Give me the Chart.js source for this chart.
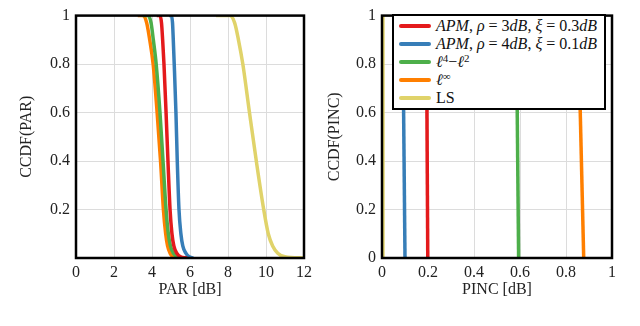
<!DOCTYPE html>
<html lang="en">
<head>
<meta charset="UTF-8">
<title>CCDF of PAR and PINC</title>
<script src="https://cdn.jsdelivr.net/npm/chart.js"></script>
<style>
  body { margin: 0; background: #fff; }
  .panel { position: absolute; top: 0; width: 320px; height: 326px; }
  #legend {
    position: absolute; left: 72px; top: 14px; width: 210px; height: 91px;
    border: 2px solid #000; background: #fff; padding-top: 1px;
    font-family: "Liberation Serif", serif; font-size: 16px; color: #111;
  }
  #legend .row { height: 18px; line-height: 18px; display: flex; align-items: center; white-space: nowrap; }
  #legend .swatch { width: 32px; height: 4px; border-radius: 2px; margin-left: 5px; margin-right: 5px; }
  #legend sup { font-size: 11px; line-height: 0; vertical-align: 5px; }
</style>
</head>
<body>
<div class="panel" style="left:0"><canvas id="parChart" width="320" height="326"></canvas></div>
<div class="panel" style="left:320px">
  <canvas id="pincChart" width="320" height="326"></canvas>
  <div id="legend"></div>
</div>

<script>
// series colours (legend order)
const colors = ['#e41a1c', '#377eb8', '#4daf4a', '#ff7f00', '#e0d36a'];
const legendLabels = [
  '<i>APM</i>, <i>ρ</i> = 3<i>dB</i>, <i>ξ</i> = 0.3<i>dB</i>',
  '<i>APM</i>, <i>ρ</i> = 4<i>dB</i>, <i>ξ</i> = 0.1<i>dB</i>',
  '<i>ℓ</i><sup>4</sup>−<i>ℓ</i><sup>2</sup>',
  '<i>ℓ</i><sup>∞</sup>',
  'LS'
];

// --- CCDF(PAR) curves, x in dB ---
const ccdfLevels = [1, 1, 0.97, 0.9, 0.8, 0.6, 0.4, 0.2, 0.1, 0.05, 0.02, 0.005, 0];
const apm3ParX = [4.25, 4.42, 4.5, 4.56, 4.63, 4.74, 4.84, 4.95, 5.05, 5.15, 5.3, 5.5, 5.84];
const apm4ParX = [4.9, 5.02, 5.08, 5.12, 5.17, 5.26, 5.33, 5.42, 5.52, 5.62, 5.78, 5.95, 6.17];
const l4l2ParX = [3.5, 3.8, 3.95, 4.07, 4.22, 4.42, 4.58, 4.74, 4.86, 4.97, 5.12, 5.35, 5.74];
const linfParX = [3.25, 3.55, 3.72, 3.88, 4.06, 4.27, 4.45, 4.6, 4.72, 4.82, 4.95, 5.1, 5.4];
const lsParX = [7.37, 8.1, 8.35, 8.55, 8.78, 9.13, 9.49, 9.88, 10.12, 10.35, 10.62, 11.0, 12];

// --- CCDF(PINC) curves (almost vertical) ---
const pincY = [1, 0];
const apm3PincX = [0.193, 0.199];
const apm4PincX = [0.09, 0.1];
const l4l2PincX = [0.584, 0.594];
const linfPincX = [0.852, 0.877];
const lsPincX = [0.004, 0.004];

const toPoints = (xs, ys) => xs.map((x, i) => ({ x: x, y: ys[i] }));

const parSeries = [apm3ParX, apm4ParX, l4l2ParX, linfParX, lsParX];
const pincSeries = [apm3PincX, apm4PincX, l4l2PincX, linfPincX, lsPincX];

const serif = { family: '"Liberation Serif", serif', size: 16 };
const textColor = '#222';

// black frame around plot area
const framePlugin = {
  id: 'frame',
  afterDatasetsDraw(chart) {
    const { ctx, chartArea: a } = chart;
    ctx.save();
    ctx.strokeStyle = '#000';
    ctx.lineWidth = 2.5;
    ctx.strokeRect(a.left, a.top, a.right - a.left, a.bottom - a.top);
    ctx.restore();
  }
};

const fmt = v => String(Math.round(v * 10) / 10);

function makeOptions(cfg) {
  return {
    responsive: false,
    animation: false,
    layout: { padding: { left: 0, right: cfg.rightPad, top: 8, bottom: 0 } },
    plugins: { legend: { display: false }, tooltip: { enabled: false } },
    elements: { point: { radius: 0 } },
    scales: {
      x: {
        type: 'linear', min: cfg.xMin, max: cfg.xMax,
        ticks: { stepSize: cfg.xStep, font: serif, color: textColor, padding: 5, maxRotation: 0, callback: fmt },
        grid: { color: '#dcdcdc', drawTicks: false },
        border: { display: false },
        title: { display: true, text: cfg.xTitle, font: serif, color: textColor, padding: { top: 0, bottom: 27 } },
        afterFit: s => { s.height = 68; }
      },
      y: {
        type: 'linear', min: 0, max: 1,
        ticks: {
          stepSize: 0.2, font: serif, color: textColor, padding: 6,
          callback: v => (v === 0 && !cfg.showZero) ? '' : fmt(v)
        },
        grid: { color: '#dcdcdc', drawTicks: false },
        border: { display: false },
        title: { display: true, text: cfg.yTitle, font: serif, color: textColor, padding: { top: cfg.yTitlePad, bottom: 0 } },
        afterFit: s => { s.width = cfg.yWidth; }
      }
    }
  };
}

new Chart(document.getElementById('parChart'), {
  type: 'scatter',
  data: {
    datasets: parSeries.map((xs, i) => ({
      data: toPoints(xs, ccdfLevels),
      showLine: true,
      borderColor: colors[i],
      backgroundColor: colors[i],
      borderWidth: 3.5,
      cubicInterpolationMode: 'monotone'
    }))
  },
  options: makeOptions({ xMin: 0, xMax: 12, xStep: 2, xTitle: 'PAR [dB]', yTitle: 'CCDF(PAR)',
    rightPad: 16, yWidth: 76, yTitlePad: 17, showZero: false }),
  plugins: [framePlugin]
});

new Chart(document.getElementById('pincChart'), {
  type: 'scatter',
  data: {
    datasets: pincSeries.map((xs, i) => ({
      data: toPoints(xs, pincY),
      showLine: true,
      borderColor: colors[i],
      backgroundColor: colors[i],
      borderWidth: 3.5
    }))
  },
  options: makeOptions({ xMin: 0, xMax: 1, xStep: 0.2, xTitle: 'PINC [dB]', yTitle: 'CCDF(PINC)',
    rightPad: 28, yWidth: 62, yTitlePad: 5, showZero: true }),
  plugins: [framePlugin]
});

// legend box (HTML so the math text keeps italics and superscripts)
document.getElementById('legend').innerHTML = legendLabels.map((lab, i) =>
  '<div class="row"><span class="swatch" style="background:' + colors[i] + '"></span><span>' + lab + '</span></div>'
).join('');
</script>
</body>
</html>
